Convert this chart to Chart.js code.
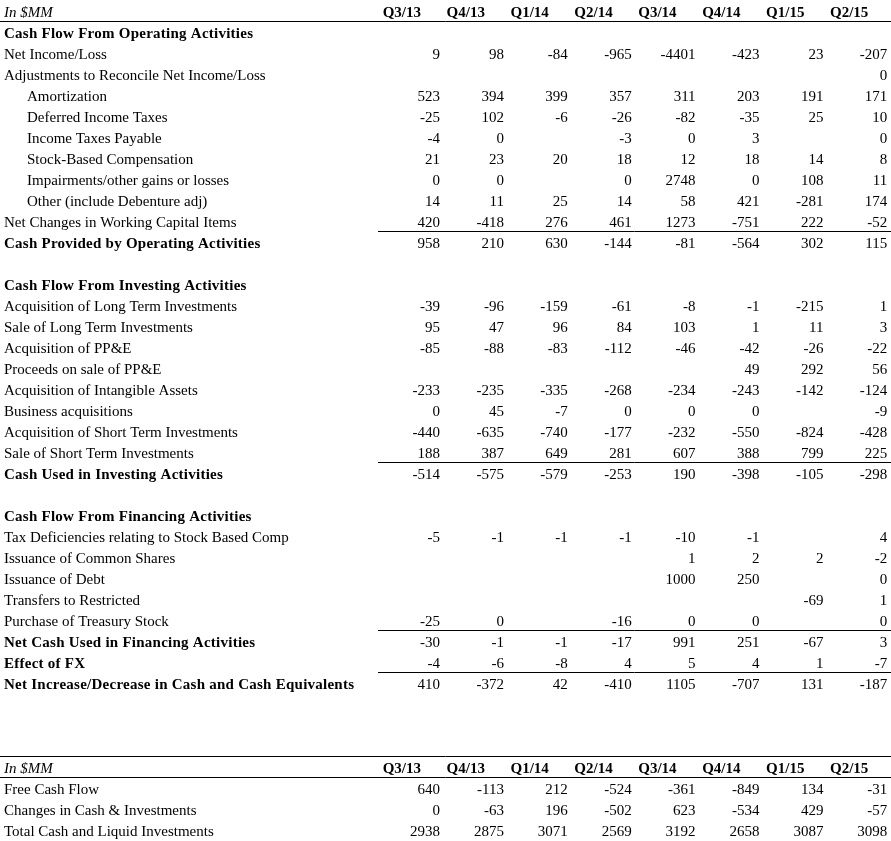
<!DOCTYPE html>
<html>
<head>
<meta charset="utf-8">
<style>
  html, body { margin: 0; padding: 0; background: #fff; }
  #wrap { width: 891px; height: 841px; position: relative; }
</style>
<script src="https://cdn.jsdelivr.net/npm/chart.js@4.4.0/dist/chart.umd.min.js"></script>
</head>
<body>
<div id="wrap"><canvas id="cash-flow"></canvas></div>
<script>
// quarter columns
const quarters = ["Q3/13", "Q4/13", "Q1/14", "Q2/14", "Q3/14", "Q4/14", "Q1/15", "Q2/15"];

// operating activities
const netIncome      = [9, 98, -84, -965, -4401, -423, 23, -207];
const adjustments    = [null, null, null, null, null, null, null, 0];
const amortization   = [523, 394, 399, 357, 311, 203, 191, 171];
const deferredTaxes  = [-25, 102, -6, -26, -82, -35, 25, 10];
const taxesPayable   = [-4, 0, null, -3, 0, 3, null, 0];
const stockComp      = [21, 23, 20, 18, 12, 18, 14, 8];
const impairments    = [0, 0, null, 0, 2748, 0, 108, 11];
const otherAdj       = [14, 11, 25, 14, 58, 421, -281, 174];
const workingCapital = [420, -418, 276, 461, 1273, -751, 222, -52];
const cashOperating  = [958, 210, 630, -144, -81, -564, 302, 115];

// investing activities
const acqLongTerm    = [-39, -96, -159, -61, -8, -1, -215, 1];
const saleLongTerm   = [95, 47, 96, 84, 103, 1, 11, 3];
const acqPPE         = [-85, -88, -83, -112, -46, -42, -26, -22];
const salePPE        = [null, null, null, null, null, 49, 292, 56];
const acqIntangible  = [-233, -235, -335, -268, -234, -243, -142, -124];
const businessAcq    = [0, 45, -7, 0, 0, 0, null, -9];
const acqShortTerm   = [-440, -635, -740, -177, -232, -550, -824, -428];
const saleShortTerm  = [188, 387, 649, 281, 607, 388, 799, 225];
const cashInvesting  = [-514, -575, -579, -253, 190, -398, -105, -298];

// financing activities
const taxDeficiency  = [-5, -1, -1, -1, -10, -1, null, 4];
const commonShares   = [null, null, null, null, 1, 2, 2, -2];
const debtIssued     = [null, null, null, null, 1000, 250, null, 0];
const restricted     = [null, null, null, null, null, null, -69, 1];
const treasuryStock  = [-25, 0, null, -16, 0, 0, null, 0];
const cashFinancing  = [-30, -1, -1, -17, 991, 251, -67, 3];
const fxEffect       = [-4, -6, -8, 4, 5, 4, 1, -7];
const netChange      = [410, -372, 42, -410, 1105, -707, 131, -187];

// summary table
const freeCashFlow   = [640, -113, 212, -524, -361, -849, 134, -31];
const cashInvChange  = [0, -63, 196, -502, 623, -534, 429, -57];
const totalLiquid    = [2938, 2875, 3071, 2569, 3192, 2658, 3087, 3098];

// row layout: [label, values, style]  style: b = bold, i = indent, rule = line above
const rows = [
  ["In $MM", null, "head"],
  ["Cash Flow From Operating Activities", null, "b"],
  ["Net Income/Loss", netIncome, ""],
  ["Adjustments to Reconcile Net Income/Loss", adjustments, ""],
  ["Amortization", amortization, "i"],
  ["Deferred Income Taxes", deferredTaxes, "i"],
  ["Income Taxes Payable", taxesPayable, "i"],
  ["Stock-Based Compensation", stockComp, "i"],
  ["Impairments/other gains or losses", impairments, "i"],
  ["Other (include Debenture adj)", otherAdj, "i"],
  ["Net Changes in Working Capital Items", workingCapital, ""],
  ["Cash Provided by Operating Activities", cashOperating, "b rule"],
  ["", null, ""],
  ["Cash Flow From Investing Activities", null, "b"],
  ["Acquisition of Long Term Investments", acqLongTerm, ""],
  ["Sale of Long Term Investments", saleLongTerm, ""],
  ["Acquisition of PP&E", acqPPE, ""],
  ["Proceeds on sale of PP&E", salePPE, ""],
  ["Acquisition of Intangible Assets", acqIntangible, ""],
  ["Business acquisitions", businessAcq, ""],
  ["Acquisition of Short Term Investments", acqShortTerm, ""],
  ["Sale of Short Term Investments", saleShortTerm, ""],
  ["Cash Used in Investing Activities", cashInvesting, "b rule"],
  ["", null, ""],
  ["Cash Flow From Financing Activities", null, "b"],
  ["Tax Deficiencies relating to Stock Based Comp", taxDeficiency, ""],
  ["Issuance of Common Shares", commonShares, ""],
  ["Issuance of Debt", debtIssued, ""],
  ["Transfers to Restricted", restricted, ""],
  ["Purchase of Treasury Stock", treasuryStock, ""],
  ["Net Cash Used in Financing Activities", cashFinancing, "b rule"],
  ["Effect of FX", fxEffect, "b"],
  ["Net Increase/Decrease in Cash and Cash Equivalents", netChange, "b rule"],
  ["", null, ""],
  ["", null, ""],
  ["", null, ""],
  ["In $MM", null, "head top"],
  ["Free Cash Flow", freeCashFlow, ""],
  ["Changes in Cash & Investments", cashInvChange, ""],
  ["Total Cash and Liquid Investments", totalLiquid, ""]
];

const FONT = "Liberation Serif, 'Times New Roman', serif";
const SIZE = 15;

// one scatter dataset per row, each cell is a point placed by the scales
const datasets = [];
rows.forEach((row, r) => {
  if (!row[1]) return;
  const pts = [];
  row[1].forEach((v, j) => {
    if (v !== null) pts.push({ x: j, y: r, v: v });
  });
  datasets.push({ data: pts, pointRadius: 0, pointHoverRadius: 0, showLine: false });
});

const tablePlugin = {
  id: "tableText",
  afterDatasetsDraw(chart) {
    const ctx = chart.ctx;
    const xs = chart.scales.x;
    const ys = chart.scales.y;
    const area = chart.chartArea;
    ctx.save();
    ctx.fillStyle = "#000";
    ctx.strokeStyle = "#000";
    ctx.lineWidth = 1;

    function hline(x1, x2, r) {
      const y = Math.round(ys.getPixelForValue(r)) + 0.5;
      ctx.beginPath();
      ctx.moveTo(x1, y);
      ctx.lineTo(x2, y);
      ctx.stroke();
    }

    rows.forEach((row, r) => {
      const y = ys.getPixelForValue(r) + 5;
      const style = row[2];
      ctx.textAlign = "left";
      ctx.letterSpacing = "0px";
      if (style.indexOf("head") >= 0) {
        ctx.font = "italic " + SIZE + "px " + FONT;
        ctx.fillText(row[0], area.left + 4, y);
        ctx.font = "bold " + SIZE + "px " + FONT;
        ctx.textAlign = "right";
        quarters.forEach((q, j) => {
          ctx.fillText(q, xs.getPixelForValue(j) - 19, y);
        });
        hline(area.left, area.right, r + 0.45);
        if (style.indexOf("top") >= 0) hline(area.left, area.right, r - 0.57);
        return;
      }
      const bold = style.indexOf("b") === 0;
      ctx.font = (bold ? "bold " : "") + SIZE + "px " + FONT;
      if (bold) ctx.letterSpacing = "0.25px";
      const indent = style === "i" ? 27 : 4;
      ctx.fillText(row[0], area.left + indent, y);
      if (style.indexOf("rule") >= 0) {
        hline(xs.getPixelForValue(-0.97), area.right, r - 0.55);
      }
    });

    ctx.letterSpacing = "0px";
    ctx.font = SIZE + "px " + FONT;
    ctx.textAlign = "right";
    chart.data.datasets.forEach((ds, i) => {
      const meta = chart.getDatasetMeta(i);
      meta.data.forEach((pt, j) => {
        ctx.fillText(String(ds.data[j].v), pt.x, pt.y + 5);
      });
    });
    ctx.restore();
  }
};

new Chart(document.getElementById("cash-flow").getContext("2d"), {
  type: "scatter",
  data: { datasets: datasets },
  options: {
    responsive: true,
    maintainAspectRatio: false,
    animation: false,
    layout: { padding: 0 },
    events: [],
    plugins: { legend: { display: false }, tooltip: { enabled: false } },
    scales: {
      x: { type: "linear", display: false, min: -6.886, max: 7.058 },
      y: { type: "linear", display: false, reverse: true, min: -0.571, max: 39.476 }
    }
  },
  plugins: [tablePlugin]
});
</script>
</body>
</html>
